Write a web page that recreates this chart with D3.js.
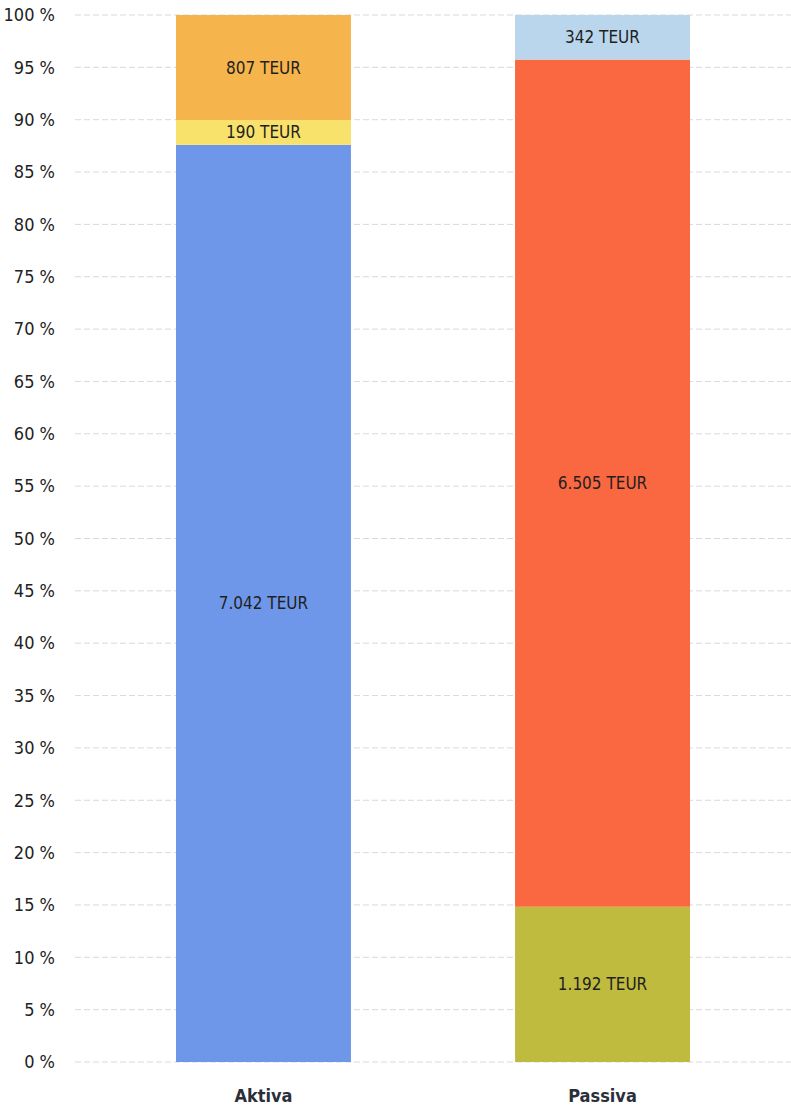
<!DOCTYPE html>
<html>
<head>
<meta charset="utf-8">
<script src="https://cdn.jsdelivr.net/npm/d3@7"></script>
<style>
  body { margin: 0; background: #fff; }
  svg text { font-family: "Liberation Sans Narrow", "DejaVu Sans Condensed", "Liberation Sans", sans-serif; }
</style>
</head>
<body>
<div id="chart"></div>
<script>
var width = 791;
var height = 1115;

// data (TEUR)
var categories = ['Aktiva', 'Passiva'];
var aktiva = [7042, 190, 807];
var passiva = [1192, 6505, 342];
var aktivaColors = ['#6f97e9', '#f8e26c', '#f6b54c'];
var passivaColors = ['#bfbb3e', '#fa6842', '#b9d6ec'];
var tickValues = [0, 5, 10, 15, 20, 25, 30, 35, 40, 45, 50, 55, 60, 65, 70, 75, 80, 85, 90, 95, 100];

var margin = {top: 15, bottom: 53, left: 75};

var svg = d3.select('#chart')
  .append('svg')
  .attr('width', width)
  .attr('height', height);

var y = d3.scaleLinear()
  .domain([0, 100])
  .range([height - margin.bottom, margin.top]);

var x = d3.scaleBand()
  .domain(categories)
  .range([176, 690])
  .paddingInner(0.484)
  .paddingOuter(0);

// gridlines
svg.append('g')
  .selectAll('line')
  .data(tickValues).enter()
  .append('line')
  .attr('x1', margin.left)
  .attr('x2', width)
  .attr('y1', function(d) { return y(d); })
  .attr('y2', function(d) { return y(d); })
  .attr('stroke', '#cfcfcf')
  .attr('stroke-width', 0.8)
  .attr('stroke-dasharray', '6,3');

// y axis labels
var yAxis = d3.axisLeft(y)
  .tickValues(tickValues)
  .tickSize(0)
  .tickPadding(0)
  .tickFormat(function(d) { return d + ' %'; });

svg.append('g')
  .attr('transform', 'translate(55,0)')
  .call(yAxis)
  .call(function(g) { g.select('.domain').remove(); })
  .selectAll('text')
  .style('font-family', '"Liberation Sans Narrow", "DejaVu Sans Condensed", sans-serif')
  .style('font-size', '18px')
  .attr('fill', '#222');

var series = [
  {name: 'Aktiva', values: aktiva, colors: aktivaColors},
  {name: 'Passiva', values: passiva, colors: passivaColors}
];

function fmt(v) {
  return d3.format(',')(v).replace(/,/g, '.') + ' TEUR';
}

series.forEach(function(s) {
  var total = d3.sum(s.values);
  var acc = 0;
  var segs = s.values.map(function(v, i) {
    var seg = {v: v, y0: acc / total * 100, y1: (acc + v) / total * 100, color: s.colors[i]};
    acc += v;
    return seg;
  });

  var g = svg.append('g');

  g.selectAll('rect')
    .data(segs).enter()
    .append('rect')
    .attr('x', x(s.name))
    .attr('width', x.bandwidth())
    .attr('y', function(d) { return y(d.y1); })
    .attr('height', function(d) { return y(d.y0) - y(d.y1); })
    .attr('fill', function(d) { return d.color; });

  g.selectAll('text')
    .data(segs).enter()
    .append('text')
    .attr('x', x(s.name) + x.bandwidth() / 2)
    .attr('y', function(d) { return y((d.y0 + d.y1) / 2); })
    .attr('dy', '0.35em')
    .attr('text-anchor', 'middle')
    .style('font-size', '17px')
    .attr('fill', '#1f1f1f')
    .text(function(d) { return fmt(d.v); });

  svg.append('text')
    .attr('x', x(s.name) + x.bandwidth() / 2)
    .attr('y', height - 13)
    .attr('text-anchor', 'middle')
    .style('font-size', '18px')
    .style('font-weight', 'bold')
    .attr('fill', '#2a2f3a')
    .text(s.name);
});
</script>
</body>
</html>
